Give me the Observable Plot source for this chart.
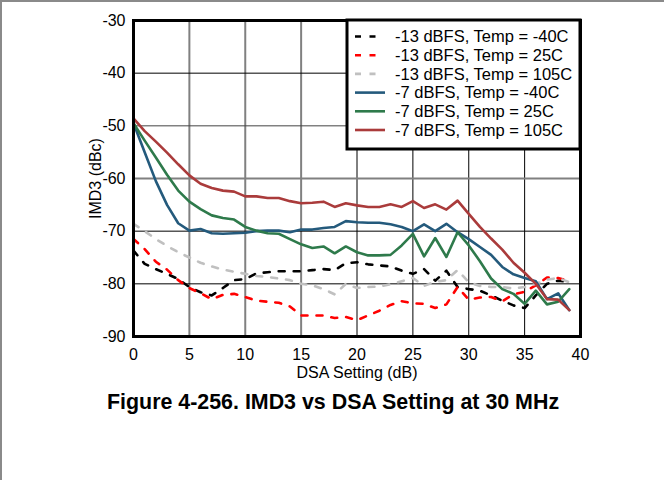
<!DOCTYPE html>
<html><head><meta charset="utf-8">
<script src="https://cdn.jsdelivr.net/npm/d3@7"></script>
<script src="https://cdn.jsdelivr.net/npm/@observablehq/plot@0.6"></script>
<style>
body{margin:0;background:#fff;}
#wrap{position:relative;width:664px;height:480px;overflow:hidden;font-family:"Liberation Sans",Arial,sans-serif;background:#fff;}
#border{position:absolute;left:0;top:0;width:664px;height:480px;box-sizing:border-box;border-top:2px solid #8a8a8a;border-left:2px solid #8a8a8a;pointer-events:none;}
#chart{position:absolute;left:0;top:0;}
#legend{position:absolute;left:0;top:0;overflow:visible;}
#caption{position:absolute;left:107px;top:390px;font-weight:bold;font-size:21.4px;white-space:nowrap;color:#000;font-family:"Liberation Sans",Arial,sans-serif;}
</style></head><body>
<div id="wrap"><div id="chart"></div><svg id="legend" width="664" height="390"></svg><div id="caption"></div><div id="border"></div></div>
<script>
// ---- data ----
const dsa = [0,1,2,3,4,5,6,7,8,9,10,11,12,13,14,15,16,17,18,19,20,21,22,23,24,25,26,27,28,29,30,31,32,33,34,35,36,37,38,39];
const xTicks = [0,5,10,15,20,25,30,35,40];
const yTicks = [-90,-80,-70,-60,-50,-40,-30];
const seriesNames = [
  "-13 dBFS, Temp = -40C",
  "-13 dBFS, Temp = 25C",
  "-13 dBFS, Temp = 105C",
  "-7 dBFS, Temp = -40C",
  "-7 dBFS, Temp = 25C",
  "-7 dBFS, Temp = 105C"
];
const m13_m40 = [-73.7,-76.2,-77.2,-78.1,-79.1,-80.6,-81.6,-82.2,-80.8,-79.3,-79.1,-78.0,-77.8,-77.6,-77.6,-77.6,-77.4,-77.2,-77.4,-76.1,-75.9,-76.3,-76.5,-76.7,-77.5,-78.1,-77.2,-79.4,-77.5,-80.6,-81.0,-81.3,-82.2,-83.2,-84.1,-84.6,-82.2,-80.0,-79.4,-79.6];
const m13_25 = [-71.5,-73.4,-75.8,-77.3,-79.3,-80.8,-81.8,-82.9,-82.1,-81.9,-82.5,-83.2,-83.4,-83.6,-84.3,-86.0,-86.0,-86.0,-86.5,-86.3,-86.9,-86.0,-85.1,-84.0,-83.3,-83.7,-83.8,-84.6,-83.9,-80.6,-83.0,-82.6,-82.5,-83.3,-82.0,-81.5,-80.3,-78.8,-78.9,-79.5];
const m13_105 = [-68.6,-70.0,-71.5,-72.8,-74.0,-75.0,-76.0,-76.7,-77.3,-77.7,-78.1,-78.5,-78.7,-79.0,-79.3,-80.0,-80.3,-81.0,-82.0,-80.0,-80.8,-80.6,-80.5,-80.1,-79.5,-78.9,-80.4,-79.6,-79.3,-77.4,-79.7,-80.4,-80.6,-80.6,-80.9,-80.6,-80.0,-79.2,-78.9,-79.7];
const m7_m40 = [-49.5,-55.0,-60.5,-65.0,-68.5,-69.9,-69.6,-70.4,-70.5,-70.4,-70.3,-70.0,-69.9,-69.9,-70.2,-69.7,-69.7,-69.4,-69.2,-68.1,-68.3,-68.4,-68.4,-68.7,-69.2,-70.0,-68.7,-70.0,-68.6,-70.2,-71.5,-73.0,-74.5,-76.8,-78.2,-78.9,-79.5,-82.9,-81.8,-85.0];
const m7_25 = [-49.5,-52.8,-56.0,-59.3,-62.3,-64.4,-65.8,-67.0,-67.5,-67.8,-69.2,-69.9,-70.4,-70.5,-71.5,-72.5,-73.2,-72.9,-74.2,-72.9,-74.0,-74.6,-74.6,-74.5,-72.7,-70.5,-74.8,-71.3,-74.9,-70.2,-72.7,-75.7,-79.0,-81.0,-81.9,-83.8,-81.3,-83.9,-83.4,-81.0];
const m7_105 = [-48.6,-51.0,-53.0,-55.1,-57.3,-59.4,-61.0,-61.8,-62.3,-62.5,-63.4,-63.4,-63.7,-63.7,-64.3,-64.7,-64.6,-64.4,-65.4,-64.7,-65.1,-65.4,-65.4,-64.9,-65.4,-64.3,-65.6,-64.9,-65.9,-64.2,-66.7,-69.2,-71.4,-73.5,-76.0,-77.9,-80.0,-82.9,-83.0,-85.0];
const seriesValues = [m13_m40, m13_25, m13_105, m7_m40, m7_25, m7_105];

// ---- styles ----
const seriesStyles = [
  {stroke:"#000000", dash:"6,9"},
  {stroke:"#ff0000", dash:"6,9"},
  {stroke:"#c0c0c0", dash:"6,9"},
  {stroke:"#245a7c", dash:null},
  {stroke:"#2e7a4b", dash:null},
  {stroke:"#aa3b3b", dash:null}
];

const rows = seriesNames.flatMap((name, i) => dsa.map((x, j) => ({x, y: seriesValues[i][j], series: name})));

const lineMarks = seriesNames.map((name, i) => Plot.line(rows.filter(r => r.series === name), {
  x: "x", y: "y",
  stroke: seriesStyles[i].stroke,
  strokeWidth: 2.6,
  strokeDasharray: seriesStyles[i].dash || undefined,
  strokeLinejoin: "round"
}));

const chart = Plot.plot({
  width: 664, height: 390,
  marginLeft: 133, marginRight: 84, marginTop: 20, marginBottom: 54,
  style: {fontFamily: '"Liberation Sans", Arial, sans-serif', fontSize: "16px", color: "#000", background: "transparent", overflow: "visible"},
  x: {domain: [0, 40]},
  y: {domain: [-90, -30]},
  marks: [
    Plot.ruleX(xTicks.filter(v => v > 0 && v < 40), {x: d => d, stroke: d => d < 20 ? "#808080" : "#000000", strokeWidth: d => d < 20 ? 2 : 1}),
    Plot.ruleY(yTicks.filter(v => v > -90 && v < -30), {y: d => d, stroke: d => d === -60 ? "#808080" : (d === -50 ? "#444444" : "#000000"), strokeWidth: d => d === -60 ? 2 : 1}),
    ...lineMarks,
    Plot.frame({stroke: "#000", strokeWidth: 3}),
    Plot.axisX({ticks: xTicks, tickSize: 0, tickPadding: 12, tickFormat: d => String(d), label: "DSA Setting (dB)", labelAnchor: "center", labelOffset: 41, labelArrow: "none"}),
    Plot.axisY({ticks: yTicks, tickSize: 0, tickPadding: 8, tickFormat: d => String(d), label: "IMD3 (dBc)", labelAnchor: "center", labelOffset: 44, labelArrow: "none"})
  ]
});
document.getElementById("chart").appendChild(chart);

// ---- legend ----
const lg = d3.select("#legend");
const box = {x: 347, y: 20, w: 233, h: 129};
lg.append("rect").attr("x", box.x).attr("y", box.y).attr("width", box.w).attr("height", box.h)
  .attr("fill", "#fff").attr("stroke", "#000").attr("stroke-width", 3);
seriesNames.forEach((name, i) => {
  const cy = 36.5 + i * 18.7;
  const dashed = !!seriesStyles[i].dash;
  lg.append("line").attr("x1", 355).attr("x2", dashed ? 376 : 385).attr("y1", cy).attr("y2", cy)
    .attr("stroke", seriesStyles[i].stroke).attr("stroke-width", 2.6)
    .attr("stroke-dasharray", dashed ? "6,8.5" : null);
  lg.append("text").attr("x", 395).attr("y", cy).attr("dy", "0.35em")
    .attr("font-family", '"Liberation Sans", Arial, sans-serif').attr("font-size", 16.5)
    .attr("fill", "#000").text(name);
});

document.getElementById("caption").textContent = "Figure 4-256. IMD3 vs DSA Setting at 30 MHz";
</script>
</body></html>
